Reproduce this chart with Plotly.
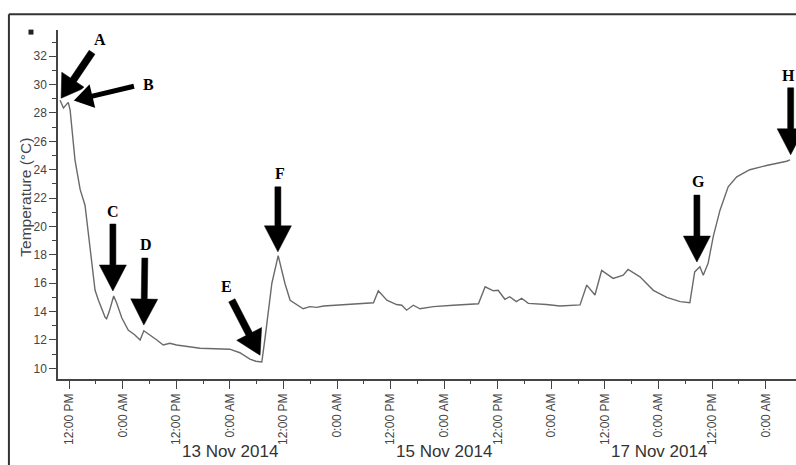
import math
import plotly.graph_objects as go

# ---------------- data ----------------
times = [
    "2014-11-11 10:00", "2014-11-11 10:45", "2014-11-11 11:50", "2014-11-11 12:15",
    "2014-11-11 13:20", "2014-11-11 14:30", "2014-11-11 15:35", "2014-11-11 16:20",
    "2014-11-11 17:05", "2014-11-11 17:50", "2014-11-11 18:35", "2014-11-11 20:05",
    "2014-11-11 20:25", "2014-11-11 21:00", "2014-11-11 22:00", "2014-11-11 22:40",
    "2014-11-11 23:50", "2014-11-12 01:15", "2014-11-12 02:45", "2014-11-12 03:55",
    "2014-11-12 04:45", "2014-11-12 06:10", "2014-11-12 07:40", "2014-11-12 09:05",
    "2014-11-12 10:35", "2014-11-12 12:05", "2014-11-12 15:05", "2014-11-12 17:20",
    "2014-11-12 20:40", "2014-11-13 00:00", "2014-11-13 02:15", "2014-11-13 04:30",
    "2014-11-13 05:50", "2014-11-13 07:10", "2014-11-13 07:55", "2014-11-13 09:25",
    "2014-11-13 10:50", "2014-11-13 12:20", "2014-11-13 13:30", "2014-11-13 15:00",
    "2014-11-13 16:25", "2014-11-13 17:55", "2014-11-13 19:25", "2014-11-13 21:00",
    "2014-11-13 23:10", "2014-11-14 02:55", "2014-11-14 05:10", "2014-11-14 08:10",
    "2014-11-14 09:15", "2014-11-14 11:10", "2014-11-14 13:20", "2014-11-14 14:30",
    "2014-11-14 15:35", "2014-11-14 17:05", "2014-11-14 18:35", "2014-11-14 21:35",
    "2014-11-15 02:00", "2014-11-15 07:40", "2014-11-15 09:10", "2014-11-15 11:00",
    "2014-11-15 12:05", "2014-11-15 13:35", "2014-11-15 14:40", "2014-11-15 16:10",
    "2014-11-15 17:20", "2014-11-15 18:50", "2014-11-15 22:55", "2014-11-16 01:55",
    "2014-11-16 06:25", "2014-11-16 07:55", "2014-11-16 09:45", "2014-11-16 11:15",
    "2014-11-16 13:50", "2014-11-16 16:05", "2014-11-16 17:10", "2014-11-16 19:50",
    "2014-11-16 22:50", "2014-11-17 01:50", "2014-11-17 04:50", "2014-11-17 07:00",
    "2014-11-17 08:05", "2014-11-17 09:15", "2014-11-17 10:00", "2014-11-17 11:05",
    "2014-11-17 12:15", "2014-11-17 13:45", "2014-11-17 15:35", "2014-11-17 17:30",
    "2014-11-17 20:25", "2014-11-18 00:10", "2014-11-18 04:40", "2014-11-18 05:25",
]
temps = [
    28.9, 28.35, 28.75, 28.2,
    24.7, 22.6, 21.5, 19.5,
    17.2, 15.5, 14.8, 13.6,
    13.5, 14.0, 15.1, 14.6,
    13.55, 12.7, 12.35, 12.0,
    12.65, 12.35, 12.0, 11.65,
    11.77, 11.65, 11.53, 11.42,
    11.38, 11.35, 11.1, 10.65,
    10.5, 10.45, 12.2, 16.0,
    17.95, 16.0, 14.8, 14.5,
    14.2, 14.35, 14.3, 14.4,
    14.45, 14.55, 14.6, 14.62,
    15.47, 14.8, 14.5, 14.45,
    14.1, 14.45, 14.2, 14.35,
    14.45, 14.55, 15.75, 15.47,
    15.5, 14.87, 15.05, 14.7,
    14.94, 14.58, 14.5, 14.4,
    14.47, 15.87, 15.17, 16.9,
    16.34, 16.57, 16.97, 16.45,
    15.5, 15.0, 14.7, 14.63,
    16.8, 17.16, 16.57, 17.4,
    19.3, 21.15, 22.8, 23.5,
    24.0, 24.3, 24.6, 24.7,
]

tick_times = [
    "2014-11-11 12:00", "2014-11-12 00:00", "2014-11-12 12:00", "2014-11-13 00:00",
    "2014-11-13 12:00", "2014-11-14 00:00", "2014-11-14 12:00", "2014-11-15 00:00",
    "2014-11-15 12:00", "2014-11-16 00:00", "2014-11-16 12:00", "2014-11-17 00:00",
    "2014-11-17 12:00", "2014-11-18 00:00",
]
tick_labels = ["12:00 PM", "0:00 AM"] * 7
minor_tick_times = [
    "2014-11-11 18:00", "2014-11-12 06:00", "2014-11-12 18:00", "2014-11-13 06:00",
    "2014-11-13 18:00", "2014-11-14 06:00", "2014-11-14 18:00", "2014-11-15 06:00",
    "2014-11-15 18:00", "2014-11-16 06:00", "2014-11-16 18:00", "2014-11-17 06:00",
    "2014-11-17 18:00",
]
date_label_times = ["2014-11-13 00:00", "2014-11-15 00:00", "2014-11-17 00:00"]
date_labels = ["13 Nov 2014", "15 Nov 2014", "17 Nov 2014"]

marker_letters = ["A", "B", "C", "D", "E", "F", "G", "H"]
marker_times = [
    "2014-11-11 10:00", "2014-11-11 11:50", "2014-11-11 22:00", "2014-11-12 04:45",
    "2014-11-13 07:10", "2014-11-13 10:50", "2014-11-17 09:15", "2014-11-18 05:25",
]

y_title = "Temperature (°C)"

# ---------------- arrow styling (pixel offsets) ----------------
arrow_style = {
    "A": dict(tip=(1, -2), tail=(31, -46), hl=22, hw=28, sw=7, lab=(40, -61), outline=0),
    "B": dict(tip=(3.7, -1.3), tail=(63, -15), hl=22, hw=28, sw=7, lab=(80, -18), outline=2),
    "C": dict(tip=(-0.8, -5), tail=(0, -67), hl=26, hw=27, sw=6, lab=(-0.5, -85), outline=0),
    "D": dict(tip=(0, -5.7), tail=(1, -67), hl=26, hw=27, sw=6, lab=(1.7, -86), outline=0),
    "E": dict(tip=(-1.7, -6.7), tail=(-28.3, -55), hl=24, hw=28, sw=7, lab=(-35, -75), outline=0),
    "F": dict(tip=(-0.3, -3.7), tail=(0, -65), hl=26, hw=27, sw=6, lab=(1.7, -82), outline=0),
    "G": dict(tip=(-3, -4.7), tail=(0, -67), hl=26, hw=27, sw=6, lab=(-1, -85), outline=0),
    "H": dict(tip=(0.7, -5), tail=(0, -67), hl=26, hw=27, sw=6, lab=(-1, -84), outline=0),
}


def arrow_path(tx, ty, bx, by, hl, hw, sw):
    L = math.hypot(tx - bx, ty - by)
    ux, uy = (tx - bx) / L, (ty - by) / L
    nx, ny = -uy, ux
    hx, hy = tx - ux * hl, ty - uy * hl
    pts = [
        (bx + nx * sw / 2, by + ny * sw / 2),
        (hx + nx * sw / 2, hy + ny * sw / 2),
        (hx + nx * hw / 2, hy + ny * hw / 2),
        (tx, ty),
        (hx - nx * hw / 2, hy - ny * hw / 2),
        (hx - nx * sw / 2, hy - ny * sw / 2),
        (bx - nx * sw / 2, by - ny * sw / 2),
    ]
    return "M" + "L".join(f"{x:.2f},{-y:.2f}" for x, y in pts) + "Z"


fig = go.Figure()
fig.add_trace(go.Scatter(
    x=times, y=temps, mode="lines",
    line=dict(color="#6a6a6a", width=1.4),
    showlegend=False, hoverinfo="skip",
))

shapes = []
annotations = []
for letter, t in zip(marker_letters, marker_times):
    v = temps[times.index(t)]
    st = arrow_style[letter]
    tx, ty = st["tip"]
    bx, by = tx + st["tail"][0], ty + st["tail"][1]
    shapes.append(dict(
        type="path", xref="x", yref="y", xsizemode="pixel", ysizemode="pixel",
        xanchor=t, yanchor=v,
        path=arrow_path(tx, ty, bx, by, st["hl"], st["hw"], st["sw"]),
        fillcolor="black",
        line=dict(color="white" if st["outline"] else "black", width=st["outline"] if st["outline"] else 0.5),
        layer="above",
    ))
    annotations.append(dict(
        x=t, y=v, xref="x", yref="y", showarrow=False, text=letter,
        xshift=st["lab"][0], yshift=-st["lab"][1],
        xanchor="center", yanchor="middle",
        font=dict(family="Liberation Serif", size=16, color="black", weight="bold"),
    ))

for t, lab in zip(date_label_times, date_labels):
    annotations.append(dict(
        x=t, y=-0.209, xref="x", yref="paper", showarrow=False, text=lab,
        xanchor="center", yanchor="middle",
        font=dict(family="Liberation Sans", size=17, color="#333333"),
    ))

annotations.append(dict(
    x=-0.0445, y=0.52, xref="paper", yref="paper", showarrow=False, text=y_title,
    textangle=-90, xanchor="center", yanchor="middle",
    font=dict(family="Liberation Sans", size=15.5, color="#444444"),
))

# outer frame (left and top border) and small square
shapes.append(dict(type="line", xref="paper", yref="paper", x0=-0.0665, x1=-0.0665, y0=1.045, y1=-0.35,
                   line=dict(color="#333333", width=2), layer="above"))
shapes.append(dict(type="line", xref="paper", yref="paper", x0=-0.0665, x1=1.1, y0=1.045, y1=1.045,
                   line=dict(color="#333333", width=2), layer="above"))
shapes.append(dict(type="rect", xref="paper", yref="paper", xsizemode="pixel", ysizemode="pixel",
                   xanchor=-0.0366, yanchor=0.994, x0=-2.5, x1=2.5, y0=-2.5, y1=2.5,
                   fillcolor="#222222", line=dict(width=0)))

fig.update_layout(
    width=796, height=465, autosize=False,
    margin=dict(l=58, r=0, t=30, b=86),
    paper_bgcolor="white", plot_bgcolor="white",
    shapes=shapes, annotations=annotations,
    showlegend=False,
)
fig.update_xaxes(
    type="date", range=["2014-11-11 09:32", "2014-11-18 06:46"],
    tickmode="array", tickvals=tick_times, ticktext=tick_labels, tickangle=-90,
    ticks="outside", ticklen=8, tickcolor="#444444", tickwidth=1.2,
    tickfont=dict(family="Liberation Sans", size=12, color="#444444"),
    minor=dict(tickmode="array", tickvals=minor_tick_times, ticks="outside", ticklen=3, tickcolor="#444444"),
    showline=True, linecolor="#444444", linewidth=1.5,
    showgrid=False, zeroline=False,
)
fig.update_yaxes(
    range=[9.25, 33.85], tick0=10, dtick=2,
    ticks="outside", ticklen=7, tickcolor="#444444", tickwidth=1.2,
    tickfont=dict(family="Liberation Sans", size=12, color="#444444"),
    minor=dict(dtick=1, ticks="outside", ticklen=4, tickcolor="#444444"),
    showline=True, linecolor="#444444", linewidth=1.5,
    showgrid=False, zeroline=False,
)

fig.write_html(
    "out.html",
    config={"displayModeBar": False},
    post_script="document.body.style.margin='0';document.body.style.padding='0';",
)
